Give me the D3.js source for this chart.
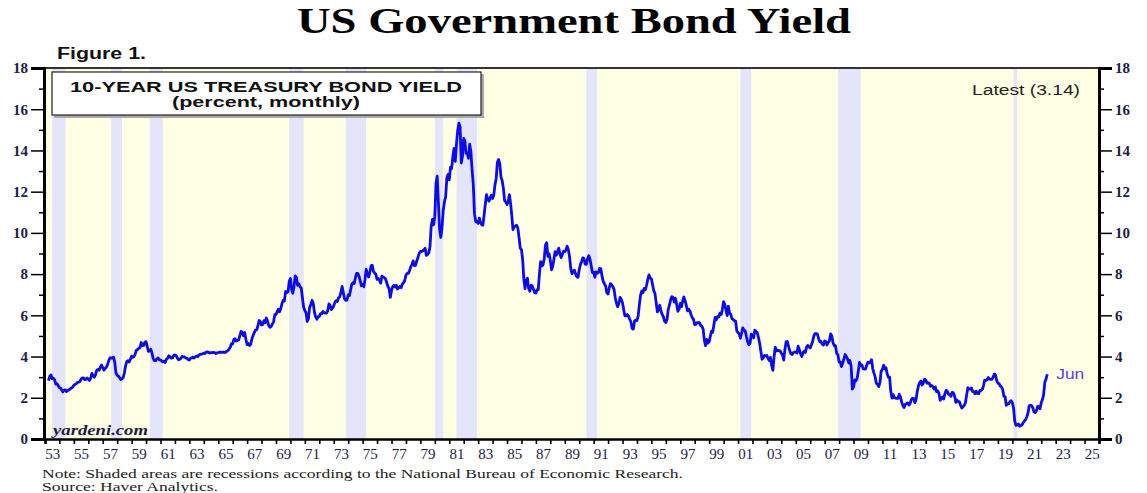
<!DOCTYPE html>
<html lang="en">
<head>
    <meta charset="UTF-8">
    <script src="https://d3js.org/d3.v7.min.js"></script>
    <title>US Government Bond Yield</title>
    <style>
        body { margin: 0; background: #fff; }
        svg { display: block; }
    </style>
</head>
<body>
<div id="chart"></div>
<script>
// 10-year US Treasury yield, monthly, starting April 1953 (percent)
const firstMonth = "1953-04";
const yields = [
    2.83, 3.05, 3.11, 2.93, 2.95, 2.87, 2.66, 2.68, 2.59,
    2.48, 2.47, 2.37, 2.29, 2.37, 2.38, 2.30, 2.36, 2.38, 2.43, 2.48, 2.51,
    2.61, 2.65, 2.68, 2.75, 2.76, 2.78, 2.90, 2.97, 2.97, 2.88, 2.89, 2.96,
    2.90, 2.84, 2.96, 3.18, 3.07, 3.00, 3.11, 3.33, 3.38, 3.34, 3.49, 3.59,
    3.46, 3.34, 3.41, 3.48, 3.60, 3.80, 3.93, 3.93, 3.92, 3.97, 3.72, 3.21,
    3.09, 3.05, 2.98, 2.88, 2.92, 2.97, 3.20, 3.54, 3.76, 3.80, 3.74, 3.86,
    4.02, 3.96, 3.99, 4.12, 4.31, 4.34, 4.40, 4.43, 4.68, 4.53, 4.53, 4.69,
    4.72, 4.49, 4.25, 4.28, 4.35, 4.15, 3.90, 3.80, 3.80, 3.89, 3.93, 3.84,
    3.84, 3.78, 3.74, 3.78, 3.71, 3.88, 3.92, 4.04, 3.98, 3.92, 3.94, 4.06,
    4.08, 4.04, 3.93, 3.84, 3.87, 3.91, 4.01, 3.98, 3.98, 3.93, 3.92, 3.86,
    3.83, 3.92, 3.93, 3.97, 3.93, 3.99, 4.02, 4.00, 4.08, 4.11, 4.12, 4.13,
    4.17, 4.15, 4.22, 4.23, 4.20, 4.17, 4.19, 4.19, 4.20, 4.19, 4.15, 4.18,
    4.19, 4.21, 4.21, 4.20, 4.21, 4.21, 4.20, 4.25, 4.29, 4.35, 4.45, 4.62,
    4.61, 4.83, 4.87, 4.75, 4.78, 4.81, 5.02, 5.22, 5.18, 5.01, 5.16, 4.84,
    4.58, 4.63, 4.54, 4.59, 4.85, 5.02, 5.16, 5.28, 5.30, 5.48, 5.75, 5.70,
    5.53, 5.56, 5.74, 5.64, 5.87, 5.72, 5.50, 5.42, 5.46, 5.58, 5.70, 6.03,
    6.04, 6.19, 6.30, 6.17, 6.32, 6.57, 6.72, 6.69, 7.16, 7.10, 7.14, 7.65,
    7.79, 7.24, 7.07, 7.39, 7.91, 7.84, 7.46, 7.53, 7.39, 7.33, 6.84, 6.39,
    6.24, 6.11, 5.70, 5.83, 6.39, 6.52, 6.73, 6.58, 6.14, 5.93, 5.81, 5.93,
    5.95, 6.08, 6.07, 6.19, 6.13, 6.11, 6.11, 6.21, 6.55, 6.48, 6.28, 6.36,
    6.46, 6.64, 6.71, 6.67, 6.85, 6.90, 7.13, 7.40, 7.09, 6.79, 6.73, 6.74,
    6.99, 6.96, 7.21, 7.51, 7.58, 7.54, 7.81, 8.04, 8.04, 7.90, 7.68, 7.43,
    7.50, 7.39, 7.73, 8.23, 8.06, 7.86, 8.06, 8.40, 8.43, 8.14, 8.05, 8.00,
    7.74, 7.79, 7.73, 7.56, 7.90, 7.86, 7.83, 7.77, 7.59, 7.41, 7.29, 6.87,
    7.21, 7.39, 7.46, 7.37, 7.46, 7.28, 7.33, 7.40, 7.34, 7.52, 7.58, 7.69,
    7.96, 8.03, 8.04, 8.15, 8.35, 8.46, 8.64, 8.41, 8.42, 8.64, 8.81, 9.01,
    9.10, 9.10, 9.12, 9.18, 9.25, 8.91, 8.95, 9.03, 9.33, 10.30, 10.65, 10.39,
    10.80, 12.41, 12.75, 11.47, 10.18, 9.78, 10.25, 11.10, 11.51, 11.75, 12.68, 12.84,
    12.57, 13.19, 13.12, 13.68, 14.10, 13.47, 14.28, 14.94, 15.32, 15.15, 13.39, 13.72,
    14.59, 14.43, 13.86, 13.87, 13.62, 14.30, 13.95, 13.06, 12.34, 10.91, 10.55, 10.54,
    10.46, 10.72, 10.51, 10.40, 10.38, 10.85, 11.38, 11.85, 11.65, 11.54, 11.69, 11.83,
    11.67, 11.84, 12.32, 12.63, 13.41, 13.56, 13.36, 12.72, 12.52, 12.16, 11.57, 11.50,
    11.38, 11.51, 11.86, 11.43, 10.85, 10.16, 10.31, 10.33, 10.37, 10.24, 9.78, 9.26,
    9.19, 8.70, 7.78, 7.30, 7.71, 7.80, 7.30, 7.17, 7.45, 7.43, 7.25, 7.11,
    7.08, 7.25, 7.25, 8.02, 8.61, 8.40, 8.45, 8.76, 9.42, 9.52, 8.86, 8.99,
    8.67, 8.21, 8.37, 8.72, 9.09, 8.92, 9.06, 9.26, 8.98, 8.80, 8.96, 9.11,
    9.09, 9.17, 9.36, 9.18, 8.86, 8.28, 8.02, 8.11, 8.19, 8.01, 7.87, 7.84,
    8.21, 8.47, 8.59, 8.79, 8.76, 8.48, 8.47, 8.75, 8.89, 8.72, 8.39, 8.08,
    8.09, 7.85, 8.11, 8.04, 8.07, 8.28, 8.27, 7.90, 7.65, 7.53, 7.42, 7.09,
    7.03, 7.34, 7.54, 7.48, 7.39, 7.26, 6.84, 6.59, 6.42, 6.59, 6.87, 6.77,
    6.60, 6.26, 5.98, 5.97, 6.04, 5.96, 5.81, 5.68, 5.36, 5.33, 5.72, 5.77,
    5.75, 5.97, 6.48, 6.97, 7.18, 7.10, 7.30, 7.24, 7.46, 7.74, 7.96, 7.81,
    7.78, 7.47, 7.20, 7.06, 6.63, 6.17, 6.28, 6.49, 6.20, 6.04, 5.93, 5.71,
    5.65, 5.81, 6.27, 6.51, 6.74, 6.91, 6.87, 6.64, 6.83, 6.53, 6.20, 6.30,
    6.58, 6.42, 6.69, 6.89, 6.71, 6.49, 6.22, 6.30, 6.21, 6.03, 5.88, 5.81,
    5.54, 5.57, 5.65, 5.64, 5.65, 5.50, 5.46, 5.34, 4.81, 4.53, 4.83, 4.65,
    4.72, 5.00, 5.23, 5.18, 5.54, 5.90, 5.79, 5.94, 5.92, 6.11, 6.03, 6.28,
    6.66, 6.52, 6.26, 5.99, 6.44, 6.10, 6.05, 5.83, 5.80, 5.74, 5.72, 5.24,
    5.16, 5.10, 4.89, 5.14, 5.39, 5.28, 5.24, 4.97, 4.73, 4.57, 4.65, 5.09,
    5.04, 4.91, 5.28, 5.21, 5.16, 4.93, 4.65, 4.26, 3.87, 3.94, 4.05, 4.03,
    4.05, 3.90, 3.81, 3.96, 3.57, 3.33, 3.98, 4.45, 4.27, 4.29, 4.30, 4.27,
    4.15, 4.08, 3.83, 4.35, 4.72, 4.73, 4.50, 4.28, 4.13, 4.10, 4.19, 4.23,
    4.22, 4.17, 4.50, 4.34, 4.14, 4.00, 4.18, 4.26, 4.20, 4.46, 4.54, 4.47,
    4.42, 4.57, 4.72, 4.99, 5.11, 5.11, 5.09, 4.88, 4.72, 4.73, 4.60, 4.56,
    4.76, 4.72, 4.56, 4.69, 4.75, 5.10, 5.00, 4.67, 4.52, 4.53, 4.15, 4.10,
    3.74, 3.74, 3.51, 3.68, 3.88, 4.10, 4.01, 3.89, 3.69, 3.81, 3.53, 2.42,
    2.52, 2.87, 2.82, 2.93, 3.29, 3.72, 3.56, 3.59, 3.40, 3.39, 3.40, 3.59,
    3.73, 3.69, 3.73, 3.85, 3.42, 3.20, 3.01, 2.70, 2.65, 2.54, 2.76, 3.29,
    3.39, 3.58, 3.41, 3.46, 3.17, 3.00, 3.00, 2.30, 1.98, 2.15, 2.01, 1.98,
    1.97, 1.97, 2.17, 2.05, 1.80, 1.62, 1.53, 1.68, 1.72, 1.75, 1.65, 1.72,
    1.91, 1.98, 1.96, 1.76, 1.93, 2.30, 2.58, 2.74, 2.81, 2.62, 2.72, 2.90,
    2.86, 2.71, 2.72, 2.71, 2.56, 2.60, 2.54, 2.42, 2.53, 2.30, 2.33, 2.21,
    1.88, 1.98, 2.04, 1.94, 2.20, 2.36, 2.32, 2.17, 2.17, 2.07, 2.26, 2.24,
    2.09, 1.78, 1.89, 1.81, 1.81, 1.64, 1.50, 1.56, 1.63, 1.76, 2.14, 2.49,
    2.43, 2.42, 2.48, 2.30, 2.30, 2.19, 2.32, 2.21, 2.20, 2.36, 2.35, 2.40,
    2.58, 2.86, 2.84, 2.87, 2.98, 2.91, 2.89, 2.89, 3.00, 3.15, 3.12, 2.83,
    2.71, 2.68, 2.57, 2.53, 2.40, 2.07, 2.06, 1.63, 1.70, 1.71, 1.81, 1.86,
    1.76, 1.50, 0.87, 0.66, 0.67, 0.73, 0.62, 0.65, 0.68, 0.79, 0.87, 0.93,
    1.08, 1.26, 1.61, 1.64, 1.62, 1.52, 1.32, 1.28, 1.37, 1.58, 1.56, 1.47,
    1.76, 1.93, 2.13, 2.75, 2.90, 3.14
];

// NBER recessions: first month, first month after trough
const recessions = [
    ["1953-07", "1954-06"], ["1957-08", "1958-05"], ["1960-04", "1961-03"],
    ["1969-12", "1970-12"], ["1973-11", "1975-04"], ["1980-01", "1980-08"],
    ["1981-07", "1982-12"], ["1990-07", "1991-04"], ["2001-03", "2001-12"],
    ["2007-12", "2009-07"], ["2020-02", "2020-05"]
];

const yTicks = [0, 2, 4, 6, 8, 10, 12, 14, 16, 18];
const yMinorTicks = [1, 3, 5, 7, 9, 11, 13, 15, 17];
const xLabelYears = d3.range(1953, 2026, 2);
const latestLabel = "Latest (3.14)";
const endLabel = "Jun";

const width = 1147, height = 493;
const margin = { top: 68, right: 48, bottom: 54, left: 45 };
const parseMonth = d3.timeParse("%Y-%m");

const start = parseMonth(firstMonth);
const series = yields.map((v, i) => ({ date: d3.timeMonth.offset(start, i), value: v }));

const svg = d3.select('#chart')
    .append('svg')
    .attr('width', width)
    .attr('height', height);

const x = d3.scaleTime()
    .domain([new Date(1953, 0, 1), new Date(2026, 0, 1)])
    .range([margin.left, width - margin.right]);

const y = d3.scaleLinear()
    .domain([0, 18])
    .range([height - margin.bottom, margin.top]);

const serif = "'Liberation Serif', 'Times New Roman', serif";
const sans = "'Liberation Sans', Arial, sans-serif";

// title
svg.append('text')
    .attr('x', 574)
    .attr('y', 33)
    .attr('text-anchor', 'middle')
    .attr('font-family', serif)
    .attr('font-weight', 'bold')
    .attr('font-size', 35)
    .attr('textLength', 554)
    .attr('lengthAdjust', 'spacingAndGlyphs')
    .attr('fill', '#000')
    .text('US Government Bond Yield');

svg.append('text')
    .attr('x', 57)
    .attr('y', 59)
    .attr('font-family', sans)
    .attr('font-weight', 'bold')
    .attr('font-size', 16)
    .attr('textLength', 89)
    .attr('lengthAdjust', 'spacingAndGlyphs')
    .attr('fill', '#111')
    .text('Figure 1.');

// plot background
svg.append('rect')
    .attr('x', margin.left)
    .attr('y', margin.top)
    .attr('width', width - margin.left - margin.right)
    .attr('height', height - margin.top - margin.bottom)
    .attr('fill', '#ffffe3');

// recession shading
svg.append('g')
    .selectAll('rect')
    .data(recessions)
    .enter()
    .append('rect')
    .attr('x', d => x(parseMonth(d[0])))
    .attr('width', d => x(parseMonth(d[1])) - x(parseMonth(d[0])))
    .attr('y', margin.top)
    .attr('height', height - margin.top - margin.bottom)
    .attr('fill', '#e4e4fb');

// top border
svg.append('line')
    .attr('x1', margin.left).attr('x2', width - margin.right)
    .attr('y1', margin.top).attr('y2', margin.top)
    .attr('stroke', '#333').attr('stroke-width', 2);

// x axis: year ticks, labels centred within odd years
const xAxis = svg.append('g')
    .attr('transform', `translate(0,${height - margin.bottom})`)
    .call(d3.axisBottom(x)
        .tickValues(d3.timeYear.range(new Date(1953, 0, 1), new Date(2026, 0, 2)))
        .tickSize(5)
        .tickFormat(''));
xAxis.select('.domain').attr('stroke', '#000').attr('stroke-width', 2.5);
xAxis.selectAll('.tick line').attr('stroke', '#000').attr('stroke-width', 1.6);

const xLabels = svg.append('g')
    .attr('transform', `translate(0,${height - margin.bottom})`)
    .call(d3.axisBottom(x)
        .tickValues(xLabelYears.map(yr => new Date(yr, 6, 1)))
        .tickSize(0)
        .tickPadding(9)
        .tickFormat(d3.timeFormat('%y')));
xLabels.select('.domain').remove();
xLabels.selectAll('text')
    .attr('font-family', serif)
    .attr('font-size', 15)
    .attr('fill', '#1c1c48');

// y axes, left and right
function drawY(axisFn, xPos, anchor) {
    const major = svg.append('g')
        .attr('transform', `translate(${xPos},0)`)
        .call(axisFn(y).tickValues(yTicks).tickSize(13).tickPadding(3).tickFormat(d3.format('d')));
    major.select('.domain').attr('stroke', '#000').attr('stroke-width', 3);
    major.selectAll('.tick line').attr('stroke', '#000').attr('stroke-width', 1.5);
    major.selectAll('text')
        .attr('font-family', serif)
        .attr('font-weight', 'bold')
        .attr('font-size', 15)
        .attr('fill', '#1c1c48')
        .attr('text-anchor', anchor);
    const minor = svg.append('g')
        .attr('transform', `translate(${xPos},0)`)
        .call(axisFn(y).tickValues(yMinorTicks).tickSize(5).tickFormat(''));
    minor.select('.domain').remove();
    minor.selectAll('.tick line').attr('stroke', '#000').attr('stroke-width', 1.5);
}
drawY(d3.axisLeft, margin.left - 1, 'end');
drawY(d3.axisRight, width - margin.right, 'start');

// legend box
svg.append('rect')
    .attr('x', 54).attr('y', 74).attr('width', 430).attr('height', 44)
    .attr('fill', '#aaa');
svg.append('rect')
    .attr('x', 52).attr('y', 72).attr('width', 429).attr('height', 43)
    .attr('fill', '#fff').attr('stroke', '#222').attr('stroke-width', 1.2);
svg.append('text')
    .attr('x', 266).attr('y', 92)
    .attr('text-anchor', 'middle')
    .attr('font-family', sans).attr('font-weight', 'bold').attr('font-size', 15)
    .attr('textLength', 392).attr('lengthAdjust', 'spacingAndGlyphs')
    .attr('fill', '#111')
    .text('10-YEAR US TREASURY BOND YIELD');
svg.append('text')
    .attr('x', 266).attr('y', 107)
    .attr('text-anchor', 'middle')
    .attr('font-family', sans).attr('font-weight', 'bold').attr('font-size', 15)
    .attr('textLength', 188).attr('lengthAdjust', 'spacingAndGlyphs')
    .attr('fill', '#111')
    .text('(percent, monthly)');

svg.append('text')
    .attr('x', 1080).attr('y', 95)
    .attr('text-anchor', 'end')
    .attr('font-family', sans).attr('font-size', 14)
    .attr('textLength', 108).attr('lengthAdjust', 'spacingAndGlyphs')
    .attr('fill', '#222')
    .text(latestLabel);

// yield line
const line = d3.line()
    .x(d => x(d.date))
    .y(d => y(d.value));

svg.append('path')
    .datum(series)
    .attr('fill', 'none')
    .attr('stroke', '#0a0af5')
    .attr('stroke-width', 2.8)
    .attr('stroke-linejoin', 'round')
    .attr('d', line);

const last = series[series.length - 1];
svg.append('text')
    .attr('x', x(last.date) + 9)
    .attr('y', y(last.value) + 5)
    .attr('font-family', sans).attr('font-size', 14)
    .attr('textLength', 28).attr('lengthAdjust', 'spacingAndGlyphs')
    .attr('fill', '#6040e0')
    .text(endLabel);

svg.append('text')
    .attr('x', 53).attr('y', 435)
    .attr('font-family', serif).attr('font-weight', 'bold').attr('font-style', 'italic')
    .attr('font-size', 15)
    .attr('textLength', 95).attr('lengthAdjust', 'spacingAndGlyphs')
    .attr('fill', '#1c1c48')
    .text('yardeni.com');

// notes
svg.append('text')
    .attr('x', 42).attr('y', 478)
    .attr('font-family', serif).attr('font-size', 12)
    .attr('textLength', 641).attr('lengthAdjust', 'spacingAndGlyphs')
    .attr('fill', '#222')
    .text('Note: Shaded areas are recessions according to the National Bureau of Economic Research.');
svg.append('text')
    .attr('x', 42).attr('y', 491)
    .attr('font-family', serif).attr('font-size', 12)
    .attr('textLength', 176).attr('lengthAdjust', 'spacingAndGlyphs')
    .attr('fill', '#222')
    .text('Source: Haver Analytics.');
</script>
</body>
</html>
